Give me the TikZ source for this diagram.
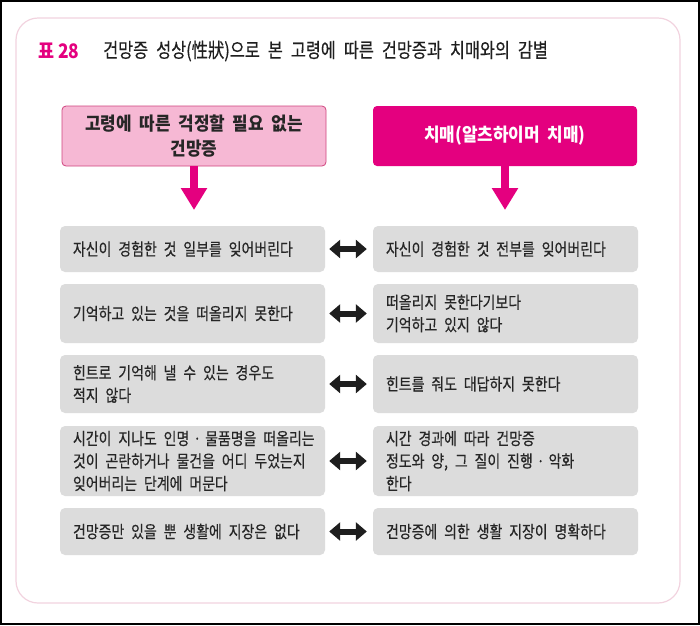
\documentclass[tikz,border=0pt]{standalone}
\usepackage{fontspec}
\setmainfont{Noto Sans CJK KR}
\newfontfamily\rowfont{Noto Sans CJK KR}[FakeStretch=0.82,WordSpace=2.2,FakeBold=0.4]
\newfontfamily\titlefont{Noto Sans CJK KR}[FakeStretch=0.815,WordSpace=2.2,FakeBold=0.3]
\newfontfamily\numfont{Noto Sans CJK KR}[FakeStretch=0.87]
\newfontfamily\hdrfont{Noto Sans CJK KR}[FakeStretch=0.92,WordSpace=2]
\usetikzlibrary{arrows.meta}
\definecolor{mag}{HTML}{E4007F}
\definecolor{pinkfill}{HTML}{F6B8D4}
\definecolor{pinkedge}{HTML}{D0457F}
\definecolor{boxgray}{HTML}{DCDCDC}
\definecolor{frameline}{HTML}{F2D3DF}
\definecolor{txt}{HTML}{262626}
\definecolor{darkarrow}{HTML}{1E1E1E}
\begin{document}
\begin{tikzpicture}[x=1pt,y=-1pt,
 rowbox/.style={rectangle, rounded corners=5pt, fill=boxgray, minimum width=265pt, minimum height=#1, inner sep=0pt},
 rowtext/.style={anchor=west, xshift=13pt, align=left, inner sep=0pt, font=\rowfont\fontsize{17}{22.5}\selectfont, text=txt},
 hdrbox/.style={rectangle, rounded corners=4pt, minimum width=264pt, minimum height=60pt, inner sep=0pt, align=center, font=\hdrfont\bfseries\fontsize{18.4}{25}\selectfont},
 downarrow/.style={draw=mag, line width=8pt, -{Triangle[width=25pt,length=22pt]}},
 dblarrow/.style={draw=darkarrow, line width=6pt, {Triangle[width=18pt,length=11pt]}-{Triangle[width=18pt,length=11pt]}, shorten <=4pt, shorten >=6pt}
]
\useasboundingbox (0,0) rectangle (700,625);
\fill[white] (0,0) rectangle (700,625);
\draw[black, line width=2pt] (1,1) rectangle (699,624);
\draw[frameline, line width=1.2pt, rounded corners=22pt] (16,18) rectangle (680,603);

% title
\node[anchor=west, text=mag, font=\numfont\bfseries\fontsize{20}{22}\selectfont, inner sep=0pt] (num) at (38,51) {표 28};
\node[anchor=west, text=black!88, font=\titlefont\fontsize{20}{22}\selectfont, inner sep=0pt] (title) at (103,51) {건망증 성상(性狀)으로 본 고령에 따른 건망증과 치매와의 감별};

% headers
\node[hdrbox, fill=pinkfill, draw=pinkedge, line width=0.8pt, text=black!85] (hl) at (194,136) {고령에 따른 걱정할 필요 없는\\건망증};
\node[hdrbox, fill=mag, text=white] (hr) at (505,136) {치매(알츠하이머 치매)};
\coordinate (tl) at (194,210);
\coordinate (tr) at (505,210);
\draw[downarrow] (hl.south) -- (tl);
\draw[downarrow] (hr.south) -- (tr);

% rows
\node[rowbox=46pt] (l1) at (192.5,249) {};
\node[rowbox=46pt] (r1) at (505.5,249) {};
\node[rowbox=59pt] (l2) at (192.5,313.5) {};
\node[rowbox=59pt] (r2) at (505.5,313.5) {};
\node[rowbox=58pt] (l3) at (192.5,384) {};
\node[rowbox=58pt] (r3) at (505.5,384) {};
\node[rowbox=70pt] (l4) at (192.5,461) {};
\node[rowbox=70pt] (r4) at (505.5,461) {};
\node[rowbox=47pt] (l5) at (192.5,531.5) {};
\node[rowbox=47pt] (r5) at (505.5,531.5) {};

\node[rowtext] (l1t) at (l1.west) {자신이 경험한 것 일부를 잊어버린다};
\node[rowtext] (r1t) at (r1.west) {자신이 경험한 것 전부를 잊어버린다};
\node[rowtext] (l2t) at (l2.west) {기억하고 있는 것을 떠올리지 못한다};
\node[rowtext] (r2t) at (r2.west) {떠올리지 못한다기보다\\기억하고 있지 않다};
\node[rowtext] (l3t) at (l3.west) {힌트로 기억해 낼 수 있는 경우도\\적지 않다};
\node[rowtext] (r3t) at (r3.west) {힌트를 줘도 대답하지 못한다};
\node[rowtext] (l4t) at (l4.west) {시간이 지나도 인명\hspace{4pt}·\hspace{4pt}물품명을 떠올리는\\것이 곤란하거나 물건을 어디 두었는지\\잊어버리는 단계에 머문다};
\node[rowtext] (r4t) at (r4.west) {시간 경과에 따라 건망증\\정도와 양, 그 질이 진행\hspace{4pt}·\hspace{4pt}악화\\한다};
\node[rowtext] (l5t) at (l5.west) {건망증만 있을 뿐 생활에 지장은 없다};
\node[rowtext] (r5t) at (r5.west) {건망증에 의한 생활 지장이 명확하다};

\draw[dblarrow] (l1) -- (r1);
\draw[dblarrow] (l2) -- (r2);
\draw[dblarrow] (l3) -- (r3);
\draw[dblarrow] (l4) -- (r4);
\draw[dblarrow] (l5) -- (r5);
\end{tikzpicture}
\end{document}
